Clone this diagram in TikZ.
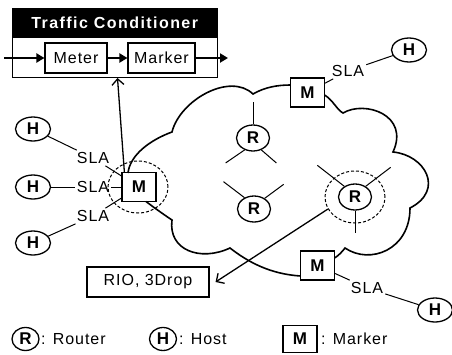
\documentclass[tikz,border=0pt]{standalone}
\usepackage{fontspec}
\setmainfont{Liberation Sans}[LetterSpace=6]
\newfontfamily\titlefont{Liberation Sans}[LetterSpace=9]
\usetikzlibrary{arrows.meta,shapes.geometric,calc}
\begin{document}
\begin{tikzpicture}[x=1pt,y=-1pt,
  lbl/.style={font=\fontsize{16}{18}\selectfont, inner sep=2pt},
  host/.style={ellipse, draw, line width=1.3pt, minimum width=35pt, minimum height=24pt, inner sep=0pt, font=\fontsize{17}{18}\selectfont\bfseries},
  router/.style={host, minimum width=33pt, minimum height=26pt},
  legcirc/.style={host, minimum width=27pt, minimum height=23pt},
  marker/.style={rectangle, draw, line width=1.3pt, minimum width=34pt, minimum height=29pt, inner sep=0pt, font=\fontsize{17}{18}\selectfont\bfseries},
  tbox/.style={rectangle, draw, line width=1.1pt, minimum height=30pt, inner sep=0pt, font=\fontsize{16}{18}\selectfont},
  cloudline/.style={line width=1.6pt},
  stub/.style={line width=1pt},
  link/.style={line width=1pt},
  ring/.style={ellipse, draw, line width=1pt, minimum width=60pt, minimum height=52pt, inner sep=0pt, dash pattern=on 3pt off 2pt},
  flow/.style={line width=2pt, -{Triangle[length=8pt,width=9pt]}},
  openarrow/.style={line width=1.3pt, -{Straight Barb[length=6pt,width=12pt]}}
]
\useasboundingbox (0,0) rectangle (452,354);

% Traffic conditioner
\node[draw, fill=black, minimum width=205pt, minimum height=29pt, inner sep=0pt, anchor=north west, text=white, font=\fontsize{16}{18}\titlefont\bfseries] (tch) at (12,8) {Traffic Conditioner};
\node[draw, line width=1pt, minimum width=205pt, minimum height=40pt, anchor=north west, inner sep=0pt] (tc) at (12,37) {};
\node[tbox, minimum width=62pt] (meter) at (76,58) {Meter};
\node[tbox, minimum width=67pt] (marker) at (161.5,58) {Marker};
\coordinate (fin) at (4,58);
\coordinate (fout) at (228,58);
\draw[flow] (fin) -- (meter);
\draw[flow] (meter) -- (marker);
\draw[flow] (marker) -- (fout);

% markers
\node[marker] (mL) at (139,187) {M};
\node[marker] (mT) at (307.5,92.5) {M};
\node[marker] (mB) at (317.5,265.5) {M};

% cloud
\draw[cloudline] (128,173) .. controls (130,155) and (150,140) .. (172,132)
  .. controls (180,100) and (230,72) .. (253,94)
  .. controls (265,87) and (278,85) .. (290.5,85);
\draw[cloudline] (324.5,95) .. controls (333,100) and (337,110) .. (343,113)
  .. controls (365,100) and (410,115) .. (393,152)
  .. controls (425,155) and (445,190) .. (410,208)
  .. controls (410,250) and (370,265) .. (345,248)
  .. controls (342,252) and (338,256) .. (334.5,258);
\draw[cloudline] (300.5,276) .. controls (270,274) and (248,262) .. (230,248)
  .. controls (200,262) and (168,250) .. (172,220)
  .. controls (160,212) and (152,206) .. (146,201.5);

% routers
\node[router] (r1) at (253,138) {R};
\node[router] (r2) at (254,209) {R};
\node[router] (r3) at (355,197) {R};
\node[ring] (ringR) at (355,197) {};
\node[ring] (ringM) at (138,187) {};

\draw[stub] (r1.north) -- ++(0,-22);
\draw[stub] (r1.235) -- ++(-19,13);
\draw[stub] (r1.305) -- ++(15,13);
\draw[stub] (r2.130) -- ++(-21,-16);
\draw[stub] (r2.45) -- ++(19,-14);
\draw[stub] (r3.135) -- ++(-27,-21);
\draw[stub] (r3.45) -- ++(25,-19);
\draw[stub] (r3.south) -- ++(0,22);

% hosts and SLAs
\node[host] (h1) at (33,129) {H};
\node[host] (h2) at (33,187) {H};
\node[host] (h3) at (33,243) {H};
\node[host] (h4) at (409,50) {H};
\node[host] (h5) at (435,310) {H};
\node[lbl] (s1) at (93,158) {SLA};
\node[lbl] (s2) at (93,187) {SLA};
\node[lbl] (s3) at (93,216) {SLA};
\node[lbl] (s4) at (348,71) {SLA};
\node[lbl] (s5) at (367,288) {SLA};
\draw[link] (h1) -- (s1);
\draw[link] (s1) -- (mL);
\draw[link] (h2) -- (s2);
\draw[link] (s2) -- (mL);
\draw[link] (h3) -- (s3);
\draw[link] (s3) -- (mL);
\draw[link] (h4) -- (s4);
\draw[link] (s4) -- (mT);
\draw[link] (h5) -- (s5);
\draw[link] (s5) -- (mB);

% RIO box and arrows
\node[tbox, minimum width=122pt] (rio) at (148,282) {RIO, 3Drop};
\coordinate (tcb) at ([xshift=2.5pt]tc.south);
\draw[openarrow] ([xshift=3pt]mL.north west) -- (tcb);
\coordinate (rioin) at ([xshift=6pt]rio.east);
\draw[openarrow] (ringR.204) -- (rioin);

% legend
\node[legcirc] (lR) at (25.5,339) {R};
\node[lbl, anchor=west] (lRt) at (39,339) {: Router};
\node[legcirc] (lH) at (163,339) {H};
\node[lbl, anchor=west] (lHt) at (177,339) {: Host};
\node[marker, minimum height=27pt] (lM) at (300,339) {M};
\node[lbl, anchor=west] (lMt) at (319,339) {: Marker};
\end{tikzpicture}
\end{document}
